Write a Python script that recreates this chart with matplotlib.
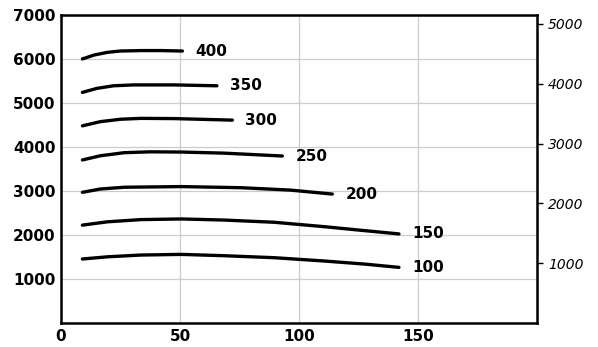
import matplotlib
matplotlib.use('Agg')
import matplotlib.pyplot as plt

"""
データ (画像から読み取った値)
"""
# 曲線ラベル
CURVE_LABELS = ['100', '150', '200', '250', '300', '350', '400']
# 各曲線の x 座標
X_100 = [9, 19.5, 33.5, 50.5, 68.5, 89.5, 110.5, 127.5, 142]
X_150 = [9, 19.5, 33.5, 50.5, 68.5, 89.5, 110.5, 127.5, 142]
X_200 = [9, 16.5, 26.5, 50.5, 75.5, 96.5, 114]
X_250 = [9, 16.5, 26.5, 37.5, 50.5, 68.5, 93]
X_300 = [9, 16.5, 25, 33.5, 47.5, 72]
X_350 = [9, 15, 22, 30.5, 47.5, 65.5]
X_400 = [9, 14, 19.5, 25, 33.5, 42, 51]
# 各曲線の y 座標
Y_100 = [1455, 1505, 1545, 1560, 1530, 1485, 1410, 1340, 1265]
Y_150 = [2225, 2300, 2350, 2365, 2340, 2290, 2190, 2100, 2025]
Y_200 = [2970, 3045, 3085, 3100, 3075, 3020, 2930]
Y_250 = [3705, 3800, 3870, 3890, 3885, 3860, 3795]
Y_300 = [4480, 4575, 4630, 4650, 4645, 4610]
Y_350 = [5240, 5330, 5390, 5410, 5410, 5390]
Y_400 = [6000, 6090, 6150, 6180, 6190, 6190, 6180]

# 軸目盛
X_TICKS = [0, 50, 100, 150]
Y_TICKS = [1000, 2000, 3000, 4000, 5000, 6000, 7000]
Y2_TICKS = [1000, 2000, 3000, 4000, 5000]
# 右軸の換算係数
Y2_FACTOR = 0.7355

XS = [X_100, X_150, X_200, X_250, X_300, X_350, X_400]
YS = [Y_100, Y_150, Y_200, Y_250, Y_300, Y_350, Y_400]


def createGraph():
    fig = plt.figure(figsize=(5.98, 3.47), dpi=100)
    ax = fig.add_axes([0.102, 0.069, 0.796, 0.888])

    # 曲線
    for label, xs, ys in zip(CURVE_LABELS, XS, YS):
        ax.plot(xs, ys, color='black', linewidth=2.4,
                solid_capstyle='round', solid_joinstyle='round')
        ax.text(xs[-1] + 5.5, ys[-1], label, ha='left', va='center',
                fontsize=11, fontweight='bold', family='DejaVu Sans')

    ax.set_xlim(0, 200)
    ax.set_ylim(0, 7000)
    ax.set_xticks(X_TICKS)
    ax.set_yticks(Y_TICKS)
    ax.grid(True, color='#cccccc', linewidth=0.9)
    ax.set_axisbelow(True)
    ax.tick_params(axis='both', length=0, labelsize=11, pad=4)
    for lbl in ax.get_xticklabels() + ax.get_yticklabels():
        lbl.set_fontweight('bold')
    for s in ax.spines.values():
        s.set_linewidth(1.8)
        s.set_color('black')

    # 右軸
    ax2 = ax.twinx()
    ax2.set_ylim(0, 7000 * Y2_FACTOR)
    ax2.set_yticks(Y2_TICKS)
    ax2.tick_params(axis='y', length=4, width=1, direction='out', labelsize=10, pad=4)
    for lbl in ax2.get_yticklabels():
        lbl.set_fontstyle('italic')
    for s in ax2.spines.values():
        s.set_visible(False)

    fig.savefig('out.png', dpi=100)


if __name__ == '__main__':
    createGraph()
